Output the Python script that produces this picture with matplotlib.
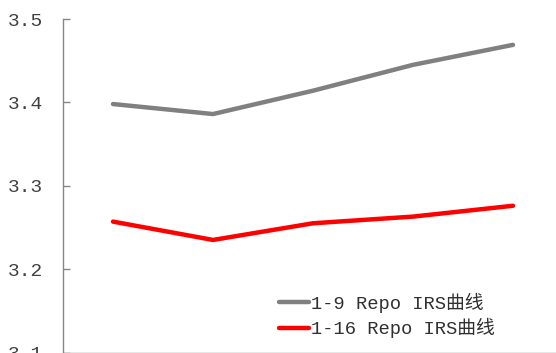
import matplotlib
matplotlib.use("Agg")
import matplotlib.pyplot as plt

# 利率曲线数据
terms = ["1", "2", "3", "4", "5"]
irs_1_9 = [3.398, 3.386, 3.414, 3.445, 3.469]
irs_1_16 = [3.257, 3.235, 3.255, 3.263, 3.276]
labels = ["1-9 Repo IRS曲线", "1-16 Repo IRS曲线"]
yticks = [3.1, 3.2, 3.3, 3.4, 3.5]

font = ["Liberation Mono", "Noto Sans CJK SC"]
plt.rcParams["font.family"] = font

W, H = 556, 353
fig = plt.figure(figsize=(W / 100, H / 100), dpi=100)
ax = fig.add_axes([63 / W, 0.5 / H, 500 / W, 333.5 / H])

x = range(len(terms))
ax.plot(x, irs_1_9, color="#808080", lw=3.2, label=labels[0], solid_capstyle="round")
ax.plot(x, irs_1_16, color="#ff0000", lw=3.2, label=labels[1], solid_capstyle="round")

ax.set_xlim(-0.5, len(terms) - 0.5)
ax.set_ylim(3.1, 3.5)
ax.set_yticks(yticks)
ax.set_yticklabels([f"{v:.1f}" for v in yticks])
ax.set_xticks([])

for s in ["top", "right"]:
    ax.spines[s].set_visible(False)
for s in ["left", "bottom"]:
    ax.spines[s].set_color("#868686")
    ax.spines[s].set_linewidth(1.0)

ax.tick_params(axis="y", direction="in", length=5, width=1, color="#868686",
               labelsize=14, labelcolor="#404040", pad=14)

ax.legend(loc="upper left", bbox_to_anchor=(270 / W, 1 - 283 / H),
          bbox_transform=fig.transFigure, frameon=False, borderpad=0,
          fontsize=13.5, handlelength=1.6, handletextpad=0.1,
          labelspacing=0.3, labelcolor="#303030")

fig.savefig("out.png", dpi=100)
